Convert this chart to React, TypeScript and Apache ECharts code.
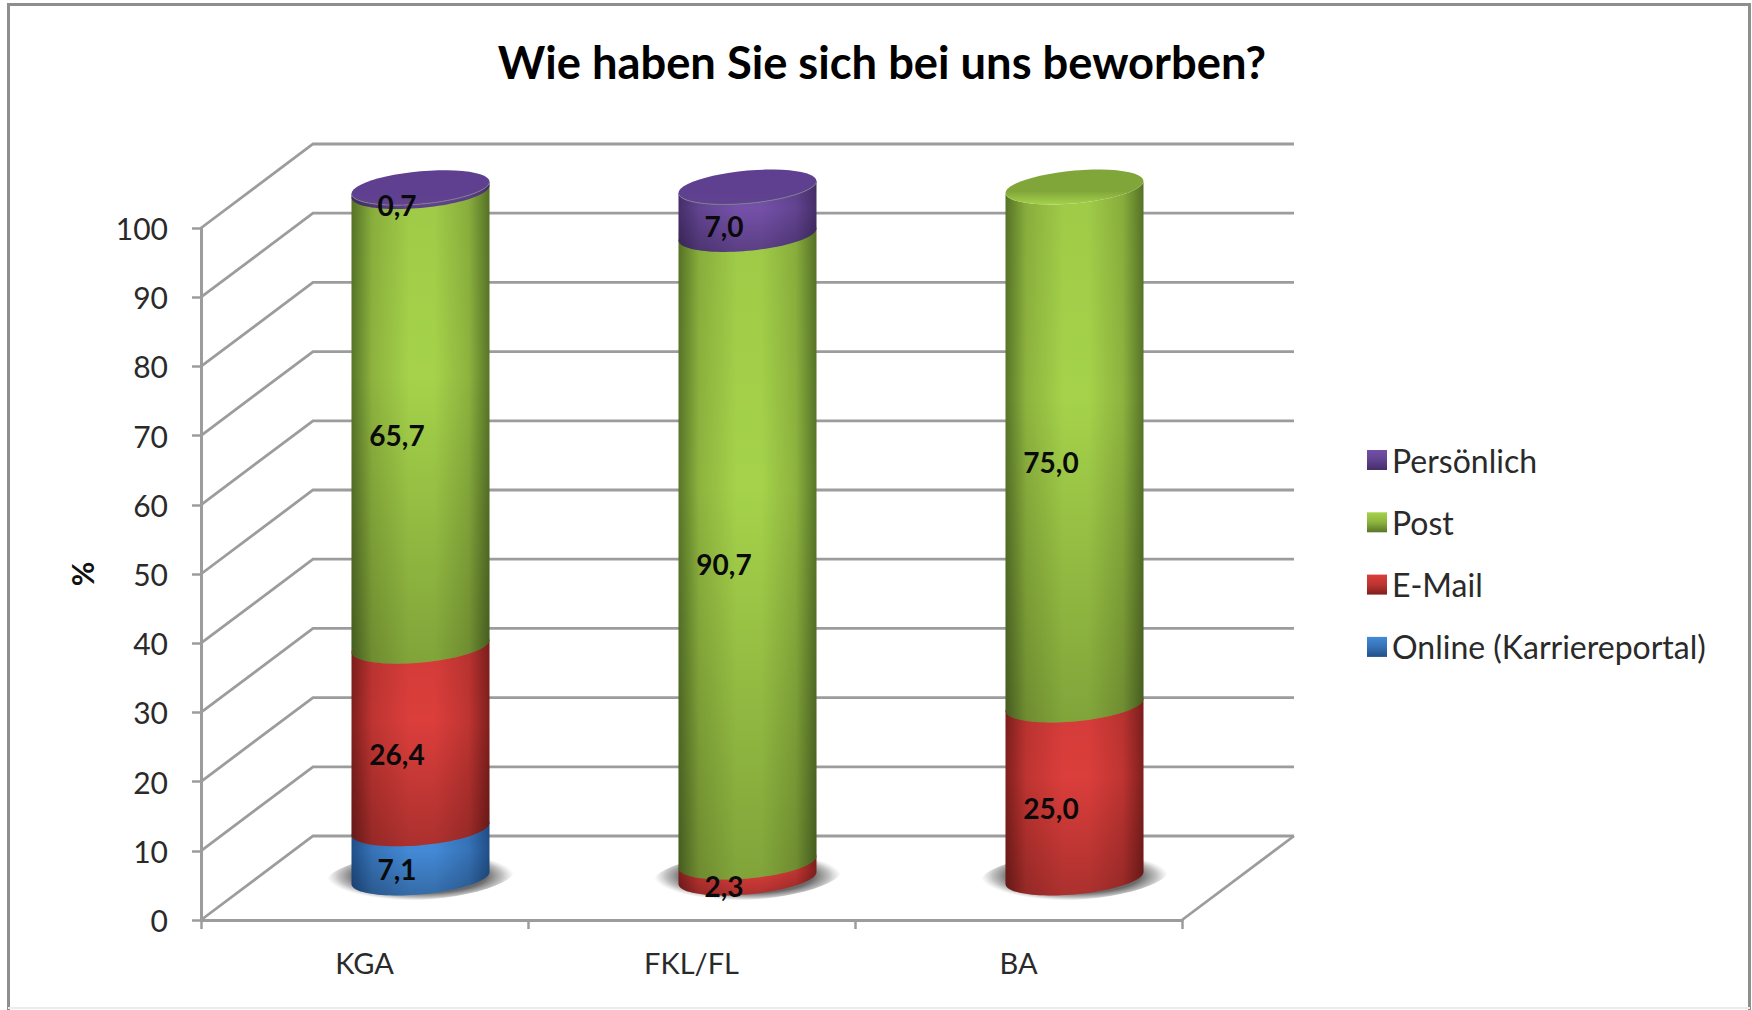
import React, { useEffect, useRef } from "react";
import * as echarts from "echarts";

const categories = ["KGA", "FKL/FL", "BA"];
const online = [7.1, 0, 0];
const email = [26.4, 2.3, 25.0];
const post = [65.7, 90.7, 75.0];
const personal = [0.7, 7.0, 0];
const yTicks = [0, 10, 20, 30, 40, 50, 60, 70, 80, 90, 100];

const seriesNames = ["Online (Karriereportal)", "E-Mail", "Post", "Persönlich"];
const seriesValues = [online, email, post, personal];
const legendOrder = ["Persönlich", "Post", "E-Mail", "Online (Karriereportal)"];

// light, mid, dark, cap
const palette = [
  ["#4389D6", "#3672B6", "#204F88", "#3A7BC4"],
  ["#DB3E3B", "#BE3431", "#7E1F1D", "#C23633"],
  ["#A5D24A", "#8DB33E", "#587528", "#80A63A"],
  ["#7450A8", "#614390", "#452E69", "#5F3F90"],
];

const FONT = "Lato";
const DEPTH_X = 112;
const DEPTH_Y = -84;
const A = 69;
const B = 16.4;
const K = 6;

function ell(cx: number, cy: number, t: number, a = A, b = B, k = K) {
  return [cx + a * Math.cos(t), cy - b * Math.sin(t) - k * Math.cos(t)];
}
function arc(cx: number, cy: number, from: number, to: number, a = A, b = B, k = K) {
  const pts: number[][] = [];
  const n = 48;
  for (let i = 0; i <= n; i++) pts.push(ell(cx, cy, from + ((to - from) * i) / n, a, b, k));
  return pts;
}
const lg = (x2: number, y2: number, stops: [number, string][]) =>
  new echarts.graphic.LinearGradient(0, 0, x2, y2, stops.map(([offset, color]) => ({ offset, color })));

function wallItem(params: any, api: any) {
  const v = api.value(0);
  const bw = api.size([1, 0])[0];
  const left = api.coord([0, v])[0] - bw / 2;
  const right = api.coord([2, v])[0] + bw / 2;
  const y = api.coord([0, v])[1];
  const style = { stroke: "#9c9c9c", lineWidth: 2.8, fill: "none" };
  const children: any[] = [
    {
      type: "polyline",
      shape: {
        points: [
          [left, y],
          [left + DEPTH_X, y + DEPTH_Y],
          [right + DEPTH_X, y + DEPTH_Y],
        ],
      },
      style,
    },
  ];
  if (v === 0) {
    children.push({
      type: "line",
      shape: { x1: right, y1: y, x2: right + DEPTH_X, y2: y + DEPTH_Y },
      style,
    });
  }
  return { type: "group", children };
}

function shadowItem(params: any, api: any) {
  const p = api.coord([api.value(0), 0]);
  const cx = p[0] + DEPTH_X / 2;
  const cy = p[1] + DEPTH_Y / 2 - 2;
  return {
    type: "polygon",
    shape: { points: arc(cx, cy, 0, Math.PI * 2, A + 25, 24, K) },
    style: {
      fill: new echarts.graphic.RadialGradient(0.5, 0.5, 0.5, [
        { offset: 0, color: "#5a5a5a" },
        { offset: 0.7, color: "#6c6c6c" },
        { offset: 0.87, color: "rgba(130,130,130,0.5)" },
        { offset: 1, color: "rgba(170,170,170,0)" },
      ]),
    },
  };
}

function cylinderItem(si: number) {
  const [light, mid, dark, cap] = palette[si];
  return (params: any, api: any) => {
    const cat = api.value(0);
    const lo = api.coord([cat, api.value(1)]);
    const hi = api.coord([cat, api.value(2)]);
    const isTop = api.value(3) === 1;
    const cx = lo[0] + DEPTH_X / 2;
    const yLo = lo[1] + DEPTH_Y / 2;
    const yHi = hi[1] + DEPTH_Y / 2 + (isTop ? 1 : -2);
    const points = [...arc(cx, yLo, Math.PI, 2 * Math.PI), ...arc(cx, yHi, 2 * Math.PI, Math.PI)];
    const children: any[] = [
      {
        type: "polygon",
        shape: { points },
        style: {
          fill: lg(1, 0, [
            [0, dark],
            [0.15, mid],
            [0.42, light],
            [0.6, light],
            [0.85, mid],
            [1, dark],
          ]),
        },
      },
      {
        type: "polygon",
        shape: { points },
        style: {
          fill: lg(0, 1, [
            [0, "rgba(0,0,0,0.04)"],
            [0.4, "rgba(0,0,0,0)"],
            [1, "rgba(0,0,0,0.22)"],
          ]),
        },
      },
    ];
    if (isTop) {
      children.push({
        type: "polygon",
        shape: { points: arc(cx, yHi, 0, 2 * Math.PI) },
        style: { fill: lg(0, 1, [[0, cap], [0.62, cap], [1, si === 2 ? light : mid]]) },
      });
      if (si !== 2) {
        children.push({
          type: "polyline",
          shape: { points: arc(cx, yHi, Math.PI, 2 * Math.PI) },
          style: { stroke: "#7d7d8c", lineWidth: 1, fill: "none" },
        });
      }
    }
    return { type: "group", children };
  };
}

function labelItem(params: any, api: any) {
  const cat = api.value(0);
  const mid = (api.value(1) + api.value(2)) / 2;
  const p = api.coord([cat, mid]);
  return {
    type: "text",
    x: p[0] + DEPTH_X / 2 - 23.5,
    y: p[1] + DEPTH_Y / 2 + 16,
    style: {
      text: api.value(3).toFixed(1).replace(".", ","),
      font: `bold 28px ${FONT}`,
      fill: "#0a0a0a",
      textAlign: "center",
      textVerticalAlign: "middle",
    },
  };
}

function buildSegments() {
  const perSeries: number[][][] = seriesValues.map(() => []);
  const labels: number[][] = [];
  categories.forEach((_, c) => {
    let base = 0;
    let last = -1;
    seriesValues.forEach((vals, s) => {
      if (vals[c] > 0) last = s;
    });
    seriesValues.forEach((vals, s) => {
      const v = vals[c];
      if (v <= 0) return;
      perSeries[s].push([c, base, base + v, s === last ? 1 : 0]);
      labels.push([c, base, base + v, v]);
      base += v;
    });
  });
  return { perSeries, labels };
}

export default function App() {
  const ref = useRef<HTMLDivElement>(null);
  useEffect(() => {
    const chart = echarts.init(ref.current!, undefined, { renderer: "svg" });
    const { perSeries, labels } = buildSegments();
    chart.setOption({
      animation: false,
      backgroundColor: "#ffffff",
      title: {
        text: "Wie haben Sie sich bei uns beworben?",
        left: 877,
        top: 34,
        textAlign: "center",
        textStyle: { fontFamily: FONT, fontWeight: "bold", fontSize: 45.3, color: "#000000" },
      },
      grid: { left: 201, right: 570, top: 228, bottom: 90 },
      xAxis: {
        type: "category",
        data: categories,
        axisLine: { lineStyle: { color: "#9c9c9c", width: 3 } },
        axisTick: { show: true, alignWithLabel: false, length: 9, lineStyle: { color: "#9c9c9c", width: 2.5 } },
        axisLabel: { fontFamily: FONT, fontSize: 29, color: "#2a2a2a", margin: 28 },
      },
      yAxis: {
        type: "value",
        min: 0,
        max: 100,
        interval: 10,
        name: "%",
        nameLocation: "middle",
        nameRotate: 90,
        nameGap: 104,
        nameTextStyle: { fontFamily: FONT, fontWeight: "bold", fontSize: 30, color: "#111111" },
        axisLine: { show: true, lineStyle: { color: "#9c9c9c", width: 3 } },
        axisTick: { show: true, length: 9, lineStyle: { color: "#9c9c9c", width: 2.5 } },
        axisLabel: { fontFamily: FONT, fontSize: 30, color: "#2a2a2a", margin: 33 },
        splitLine: { show: false },
      },
      legend: {
        orient: "vertical",
        left: 1362,
        top: 439,
        icon: "rect",
        itemWidth: 20,
        itemHeight: 20,
        itemGap: 30.3,
        selectedMode: false,
        textStyle: { fontFamily: FONT, fontSize: 32, color: "#2a2a2a", lineHeight: 32 },
        data: legendOrder.map((name) => {
          const p = palette[seriesNames.indexOf(name)];
          return { name, itemStyle: { color: lg(0, 1, [[0, p[0]], [0.5, p[1]], [1, p[2]]]) } };
        }),
      },
      graphic: [
        {
          type: "polyline",
          silent: true,
          z: -10,
          shape: { points: [[8.5, 1010], [8.5, 4.5], [1749.5, 4.5], [1749.5, 1010]] },
          style: { fill: "none", stroke: "#8e8e8e", lineWidth: 3 },
        },
        {
          type: "line",
          silent: true,
          z: -10,
          shape: { x1: 8, y1: 1008, x2: 1750, y2: 1008 },
          style: { stroke: "#ececec", lineWidth: 2 },
        },
      ],
      series: [
        {
          type: "custom",
          name: "wall",
          z: 1,
          silent: true,
          renderItem: wallItem,
          encode: { y: 0 },
          data: yTicks.map((v) => [v]),
        },
        {
          type: "custom",
          name: "shadow",
          z: 2,
          silent: true,
          renderItem: shadowItem,
          encode: { x: 0 },
          data: categories.map((_, i) => [i]),
        },
        ...seriesNames.map((name, s) => ({
          type: "custom",
          name,
          z: 3 + s,
          silent: true,
          renderItem: cylinderItem(s),
          itemStyle: { color: palette[s][1] },
          encode: { x: 0, y: 2 },
          data: perSeries[s],
        })),
        {
          type: "custom",
          name: "labels",
          z: 10,
          silent: true,
          renderItem: labelItem,
          encode: { x: 0, y: 2 },
          data: labels,
        },
      ],
    });
    return () => chart.dispose();
  }, []);
  return (
    <div
      ref={ref}
      style={{ position: "absolute", left: 0, top: 0, width: 1752, height: 1010 }}
    />
  );
}
